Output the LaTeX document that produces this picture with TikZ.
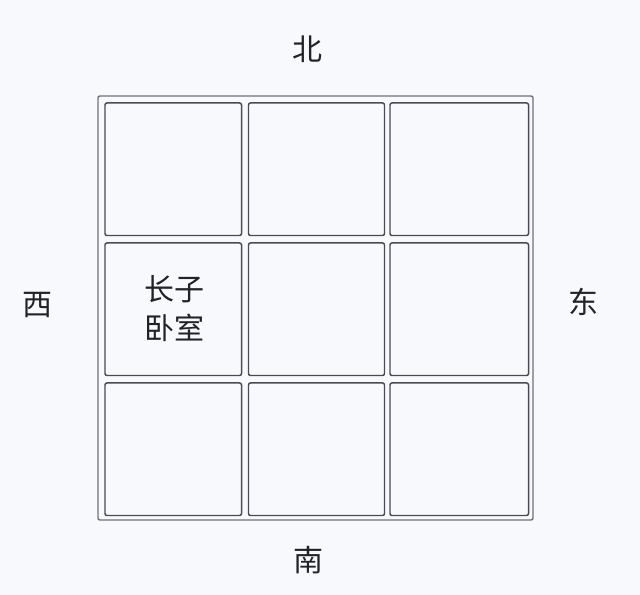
\documentclass[tikz,border=0pt]{standalone}
\usepackage{fontspec}
\newfontfamily\cjk{Noto Sans CJK SC}
\definecolor{bgc}{HTML}{F8F9FC}
\definecolor{cellline}{HTML}{4A4A55}
\definecolor{outerline}{HTML}{70707C}
\definecolor{txt}{HTML}{222228}
\begin{document}
\begin{tikzpicture}[x=0.75pt,y=-0.75pt,
  cell/.style={draw=cellline,line width=1.1pt,rounded corners=1.5pt,inner sep=0pt,outer sep=0pt,fill=bgc},
  dir/.style={text=txt,font=\cjk\fontsize{22.5}{26}\selectfont,inner sep=0pt},
  label/.style={text=txt,font=\cjk\fontsize{22.5}{29.25}\selectfont,align=center,inner sep=0pt}]
\fill[bgc] (0,0) rectangle (640,595);
\useasboundingbox (0,0) rectangle (640,595);
\draw[outerline,line width=1.1pt,rounded corners=1.5pt] (98,96) rectangle (533,520);
% row 1
\node[cell,minimum width=102.4pt,minimum height=99.4pt] (c11) at (173.25,169.25) {};
\node[cell,minimum width=102pt,minimum height=99.4pt] (c12) at (316.5,169.25) {};
\node[cell,minimum width=103.9pt,minimum height=99.4pt] (c13) at (459.25,169.25) {};
% row 2
\node[cell,minimum width=102.4pt,minimum height=99.4pt] (c21) at (173.25,309.25) {};
\node[cell,minimum width=102pt,minimum height=99.4pt] (c22) at (316.5,309.25) {};
\node[cell,minimum width=103.9pt,minimum height=99.4pt] (c23) at (459.25,309.25) {};
% row 3
\node[cell,minimum width=102.4pt,minimum height=99.4pt] (c31) at (173.25,449.25) {};
\node[cell,minimum width=102pt,minimum height=99.4pt] (c32) at (316.5,449.25) {};
\node[cell,minimum width=103.9pt,minimum height=99.4pt] (c33) at (459.25,449.25) {};
% labels
\node[label] (room) at (174,308.5) {长子\\卧室};
\node[dir] (north) at (307,49) {北};
\node[dir] (west) at (37,305) {西};
\node[dir] (east) at (583,302) {东};
\node[dir] (south) at (308,560) {南};
\end{tikzpicture}
\end{document}
